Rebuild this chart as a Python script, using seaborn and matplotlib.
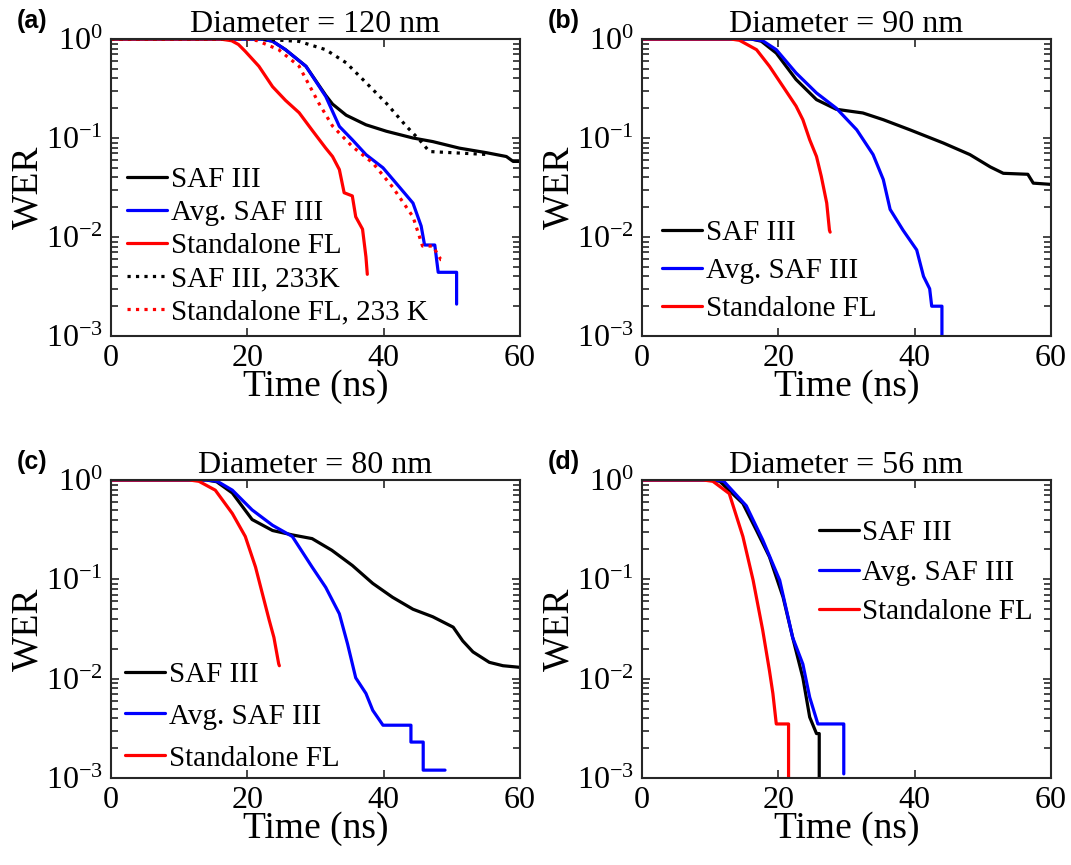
import numpy as np
import pandas as pd
import matplotlib
matplotlib.use("Agg")
import matplotlib.pyplot as plt
import matplotlib.ticker as mticker
import seaborn as sns

# ---- data (time in ns, WER) ----
# (a) Diameter = 120 nm
t_saf_a = [0, 22, 23.7, 25.6, 28.6, 31.5, 32.5, 34.5, 37.4, 40.4, 44.3, 47.2, 51.1, 55.1, 58, 59, 60]
w_saf_a = [1, 1, 0.95, 0.78, 0.53, 0.27, 0.22, 0.17, 0.136, 0.117, 0.10, 0.092, 0.079, 0.071, 0.065, 0.058, 0.058]
t_avg_a = [0, 22, 23.7, 25.6, 28.6, 31.5, 33.5, 35.4, 37.4, 39.9, 42.3, 44.3, 45.5, 46.0, 47.5, 48.0, 50.7, 50.7]
w_avg_a = [1, 1, 0.95, 0.78, 0.53, 0.263, 0.131, 0.096, 0.068, 0.050, 0.032, 0.022, 0.0129, 0.0083, 0.0083, 0.0044, 0.0044, 0.0021]
t_sfl_a = [0, 16, 17.7, 18.7, 19.7, 21.7, 23.7, 25.6, 27.6, 29.5, 31.5, 32.5, 33.5, 34.2, 35.4, 35.9, 36.9, 37.4, 37.6]
w_sfl_a = [1, 1, 0.96, 0.88, 0.75, 0.53, 0.33, 0.24, 0.18, 0.12, 0.079, 0.065, 0.048, 0.028, 0.026, 0.016, 0.012, 0.0063, 0.0042]
t_saf233_a = [0, 21, 23.5, 27.6, 31.5, 34.5, 37.4, 40.4, 43.3, 45.3, 46.7, 50.1, 55.5]
w_saf233_a = [1, 1, 0.985, 0.946, 0.78, 0.575, 0.363, 0.224, 0.132, 0.095, 0.073, 0.071, 0.068]
t_sfl233_a = [0, 20, 21.5, 24.6, 27.6, 30.5, 32.5, 35.4, 38.4, 41.3, 44.3, 45.7, 47.2, 48.4, 48.7]
w_sfl233_a = [1, 1, 0.96, 0.78, 0.53, 0.224, 0.132, 0.082, 0.056, 0.032, 0.016, 0.0081, 0.0081, 0.0059, 0.0059]

# (b) Diameter = 90 nm
t_saf_b = [0, 16, 17.5, 19.7, 22.6, 25.6, 28.5, 32.4, 35.4, 39.3, 44.2, 48.1, 51.1, 53, 56.6, 57.4, 60]
w_saf_b = [1, 1, 0.95, 0.72, 0.39, 0.244, 0.195, 0.179, 0.153, 0.121, 0.089, 0.068, 0.051, 0.044, 0.043, 0.035, 0.034]
t_avg_b = [0, 16, 17.7, 19.7, 22.6, 25.6, 28.5, 31.5, 33.9, 35.4, 36.4, 38.3, 40.3, 41.3, 42.2, 42.5, 44, 44]
w_avg_b = [1, 1, 0.96, 0.78, 0.454, 0.285, 0.20, 0.121, 0.068, 0.038, 0.019, 0.0117, 0.0074, 0.0040, 0.0030, 0.0020, 0.0020, 0.001]
t_sfl_b = [0, 13, 14.3, 16.8, 18.7, 20.7, 22.6, 23.6, 24.6, 25.6, 26.3, 27.1, 27.5, 27.6]
w_sfl_b = [1, 1, 0.97, 0.78, 0.53, 0.33, 0.21, 0.153, 0.096, 0.065, 0.041, 0.022, 0.0117, 0.0112]

# (c) Diameter = 80 nm
t_saf_c = [0, 14, 15.5, 17.8, 20.7, 23.7, 26.6, 29.5, 32.4, 35.4, 38.4, 41.3, 44.3, 47.2, 50.2, 51.6, 53.1, 55.5, 57.5, 60]
w_saf_c = [1, 1, 0.96, 0.74, 0.40, 0.31, 0.28, 0.257, 0.196, 0.138, 0.091, 0.066, 0.050, 0.042, 0.033, 0.024, 0.0186, 0.0146, 0.0135, 0.013]
t_avg_c = [0, 14, 15.6, 17.8, 20.7, 23.7, 26.6, 29.5, 31.5, 33.5, 34.7, 35.9, 37.4, 38.4, 39.9, 44.0, 44.0, 45.8, 45.8, 49]
w_avg_c = [1, 1, 0.97, 0.79, 0.50, 0.35, 0.27, 0.133, 0.083, 0.045, 0.0224, 0.0102, 0.0071, 0.0048, 0.0034, 0.0034, 0.0023, 0.0023, 0.0012, 0.0012]
t_sfl_c = [0, 11.5, 12.9, 15.3, 17.8, 19.7, 21.2, 22.2, 23.2, 23.9, 24.6, 24.7]
w_sfl_c = [1, 1, 0.97, 0.79, 0.46, 0.27, 0.133, 0.072, 0.039, 0.026, 0.0141, 0.0135]

# (d) Diameter = 56 nm
t_saf_d = [0, 10, 11.4, 14.8, 16.8, 18.7, 20.7, 22.1, 23.6, 24.6, 25.6, 26.0, 26.0]
w_saf_d = [1, 1, 0.97, 0.58, 0.31, 0.168, 0.066, 0.026, 0.0102, 0.0041, 0.0028, 0.0028, 0.001]
t_avg_d = [0, 10.5, 12, 15.3, 17.7, 20.2, 22.1, 23.6, 24.6, 25.8, 29.4, 29.6, 29.6]
w_avg_d = [1, 1, 0.97, 0.55, 0.25, 0.098, 0.026, 0.014, 0.0065, 0.0035, 0.0035, 0.0035, 0.0011]
t_sfl_d = [0, 9, 10.4, 12.8, 14.8, 16.3, 17.7, 18.7, 19.2, 19.7, 21.5, 21.5]
w_sfl_d = [1, 1, 0.97, 0.73, 0.27, 0.098, 0.031, 0.012, 0.0071, 0.0035, 0.0035, 0.001]

diameters = ["120", "90", "80", "56"]
panel_tags = ["(a)", "(b)", "(c)", "(d)"]
x_ticks = [0, 20, 40, 60]

sns.set_theme(style="ticks")
plt.rcParams["font.family"] = ["Liberation Serif", "DejaVu Serif"]
plt.rcParams["mathtext.fontset"] = "stix"
plt.rcParams["axes.linewidth"] = 1.5
plt.rcParams["axes.edgecolor"] = "#262626"
plt.rcParams["text.color"] = "black"
plt.rcParams["axes.labelcolor"] = "black"
plt.rcParams["xtick.labelcolor"] = "black"
plt.rcParams["ytick.labelcolor"] = "black"

fig = plt.figure(figsize=(10.71, 8.65), dpi=100)
W, H = 1071, 865
boxes = [(111, 39, 520, 336), (642, 39, 1051, 336), (111, 480, 520, 778), (642, 480, 1051, 778)]
axes = []
for (l, t, r, b) in boxes:
    axes.append(fig.add_axes([l / W, 1 - b / H, (r - l) / W, (b - t) / H]))

series = [
    [(t_saf_a, w_saf_a, "SAF III", "black", "-"),
     (t_avg_a, w_avg_a, "Avg. SAF III", "#0000ff", "-"),
     (t_sfl_a, w_sfl_a, "Standalone FL", "#ff0000", "-"),
     (t_saf233_a, w_saf233_a, "SAF III, 233K", "black", ":"),
     (t_sfl233_a, w_sfl233_a, "Standalone FL, 233 K", "#ff0000", ":")],
    [(t_saf_b, w_saf_b, "SAF III", "black", "-"),
     (t_avg_b, w_avg_b, "Avg. SAF III", "#0000ff", "-"),
     (t_sfl_b, w_sfl_b, "Standalone FL", "#ff0000", "-")],
    [(t_saf_c, w_saf_c, "SAF III", "black", "-"),
     (t_avg_c, w_avg_c, "Avg. SAF III", "#0000ff", "-"),
     (t_sfl_c, w_sfl_c, "Standalone FL", "#ff0000", "-")],
    [(t_saf_d, w_saf_d, "SAF III", "black", "-"),
     (t_avg_d, w_avg_d, "Avg. SAF III", "#0000ff", "-"),
     (t_sfl_d, w_sfl_d, "Standalone FL", "#ff0000", "-")],
]

# legend anchors (axes fraction, upper-left corner) and row spacing
legend_pos = [(-0.01, 0.64, 0.23), (0.0, 0.46, 0.39), (-0.015, 0.46, 0.53), (0.382, 0.935, 0.45)]

for i, ax in enumerate(axes):
    for t, w, lab, col, ls in series[i]:
        sns.lineplot(x=t, y=w, ax=ax, color=col, linestyle=ls, linewidth=2.3,
                     estimator=None, sort=False, label=lab)
    ax.set_yscale("log")
    ax.set_xlim(0, 60)
    ax.set_ylim(1e-3, 1)
    ax.set_xticks(x_ticks)
    ax.yaxis.set_major_locator(mticker.LogLocator(base=10, numticks=10))
    ax.yaxis.set_minor_locator(mticker.LogLocator(base=10, subs=np.arange(2, 10), numticks=10))
    ax.yaxis.set_minor_formatter(mticker.NullFormatter())
    ax.tick_params(which="both", direction="in", top=True, right=True, color="#262626")
    ax.tick_params(which="major", length=6, width=1.2, labelsize=23, pad=6)
    ax.tick_params(which="minor", length=5, width=1.2)
    ax.set_xlabel("Time (ns)", fontsize=27, labelpad=-3)
    ax.set_ylabel("WER", fontsize=27, labelpad=0)
    ax.set_title(f"Diameter = {diameters[i]} nm", fontsize=23, pad=3)
    for s in ax.spines.values():
        s.set_visible(True)
    lx, ly, sp = legend_pos[i]
    ax.legend(loc="upper left", bbox_to_anchor=(lx, ly), frameon=False, fontsize=21,
              handlelength=1.37, handletextpad=0.13, labelspacing=sp, borderaxespad=0.3)

tag_xy = [(17, 21), (548, 21), (17, 462), (548, 462)]
for tag, (x, y) in zip(panel_tags, tag_xy):
    fig.text(x / W, 1 - y / H, tag, fontsize=18, fontweight="bold",
             family=["Liberation Sans", "DejaVu Sans"], va="center", ha="left")

fig.savefig("out.png", dpi=100)
